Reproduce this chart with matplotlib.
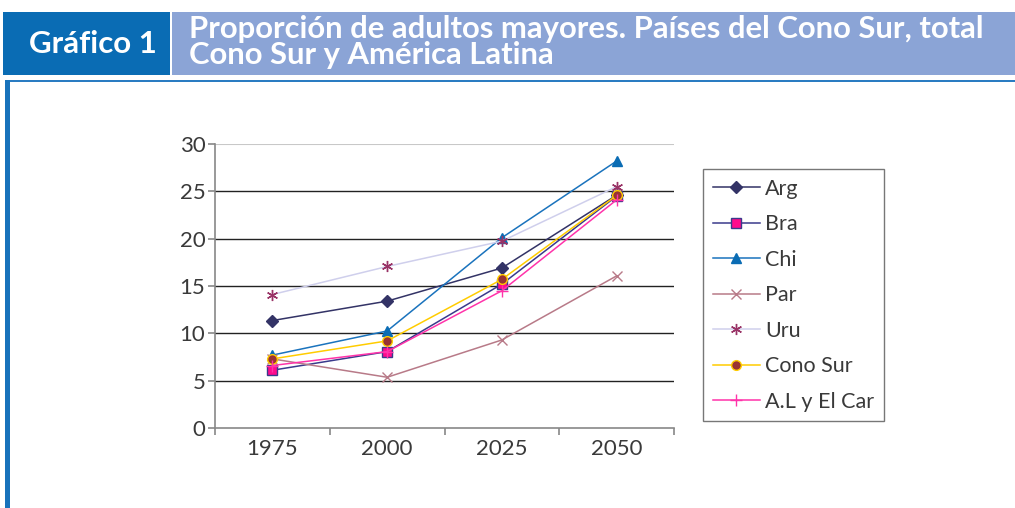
import matplotlib
matplotlib.use("Agg")
import matplotlib.pyplot as plt
from matplotlib.patches import Rectangle

anios = ["1975", "2000", "2025", "2050"]
arg = [11.35, 13.4, 16.9, 24.6]
bra = [6.1, 8.07, 15.2, 24.5]
chi = [7.7, 10.25, 20.1, 28.2]
par = [7.3, 5.36, 9.3, 16.07]
uru = [14.1, 17.06, 19.74, 25.5]
cono_sur = [7.3, 9.2, 15.7, 24.57]
al_car = [6.6, 8.07, 14.5, 24.1]

W, H = 1015, 508
fig = plt.figure(figsize=(W / 100, H / 100), dpi=100)
fig.patch.set_facecolor("white")


def fx(px):
    return px / W


def fy(py):
    return 1 - py / H


# encabezado
fig.patches.append(Rectangle((fx(3), fy(75)), fx(167), 63 / H, transform=fig.transFigure,
                             facecolor="#0a6cb4", edgecolor="none"))
fig.patches.append(Rectangle((fx(172), fy(75)), fx(W - 172), 63 / H, transform=fig.transFigure,
                             facecolor="#8ba4d6", edgecolor="none"))
fig.patches.append(Rectangle((fx(5), fy(82)), fx(W - 5), 2 / H, transform=fig.transFigure,
                             facecolor="#2a7cc2", edgecolor="none"))
fig.patches.append(Rectangle((fx(5), 0), fx(5), fy(80), transform=fig.transFigure,
                             facecolor="#1872bb", edgecolor="none"))

fig.text(fx(93), fy(44), "Gráfico 1", color="white", fontsize=22.5, fontweight="bold",
         family="Lato", ha="center", va="center")
fig.text(fx(189), fy(42), "Proporción de adultos mayores. Países del Cono Sur, total\nCono Sur y América Latina",
         color="white", fontsize=22.3, fontweight="bold", family="Lato", ha="left", va="center",
         linespacing=0.95)

ax = fig.add_axes([fx(215), fy(428), fx(674 - 215), (428 - 144) / H])
x = list(range(len(anios)))

series = [
    ("Arg", arg, dict(color="#333366", marker="D", ms=6, mfc="#333366", mec="#333366")),
    ("Bra", bra, dict(color="#3a3a8c", marker="s", ms=7, mfc="#ff0a8c", mec="#3a3a8c")),
    ("Chi", chi, dict(color="#1a73bd", marker="^", ms=7, mfc="#0a6cb4", mec="#0a6cb4")),
    ("Par", par, dict(color="#b87a88", marker="x", ms=7, mfc="#b87a88", mec="#b87a88")),
    ("Uru", uru, dict(color="#cfcfec", marker=(6, 2, 0), ms=8, mfc="#993366", mec="#993366")),
    ("Cono Sur", cono_sur, dict(color="#ffcc00", marker="o", ms=7, mfc="#993333", mec="#ffcc00")),
    ("A.L y El Car", al_car, dict(color="#ff33aa", marker="+", ms=8, mfc="#ff33aa", mec="#ff33aa")),
]

for nombre, vals, st in series:
    ax.plot(x, vals, lw=1.1, mew=1.0, label=nombre, **st)

ax.set_xlim(-0.5, 3.5)
ax.set_ylim(0, 30)
ax.set_yticks(range(0, 31, 5))
for v in range(5, 26, 5):
    ax.axhline(v, color="#222222", lw=1.0, zorder=0)
ax.axhline(30, color="#c8c8c8", lw=1.5, zorder=0)

ax.set_xticks([-0.5, 0.5, 1.5, 2.5, 3.5])
ax.set_xticklabels([])
ax.set_xticks(x, minor=True)
ax.set_xticklabels(anios, minor=True)
ax.tick_params(axis="x", which="minor", length=0, pad=8)
ax.tick_params(axis="x", which="major", length=5, color="#888888", width=1.2)
ax.tick_params(axis="y", length=5, color="#888888", width=1.2, pad=2)
for lab in ax.get_xticklabels(minor=True) + ax.get_yticklabels():
    lab.set_family("Lato")
    lab.set_fontsize(16)
    lab.set_color("#3a3a3a")

for s in ["top", "right"]:
    ax.spines[s].set_visible(False)
for s in ["left", "bottom"]:
    ax.spines[s].set_color("#888888")
    ax.spines[s].set_linewidth(1.2)

leg = fig.legend(loc="upper left", bbox_to_anchor=(fx(703), fy(169)), frameon=True,
                 fancybox=False, borderpad=0.45, labelspacing=0.72, handlelength=2.2,
                 handletextpad=0.25, borderaxespad=0,
                 prop=dict(family="Lato", size=15.5))
leg.get_frame().set_edgecolor("#555555")
leg.get_frame().set_linewidth(1.0)
for t in leg.get_texts():
    t.set_color("#3a3a3a")

fig.savefig("out.png", dpi=100)
